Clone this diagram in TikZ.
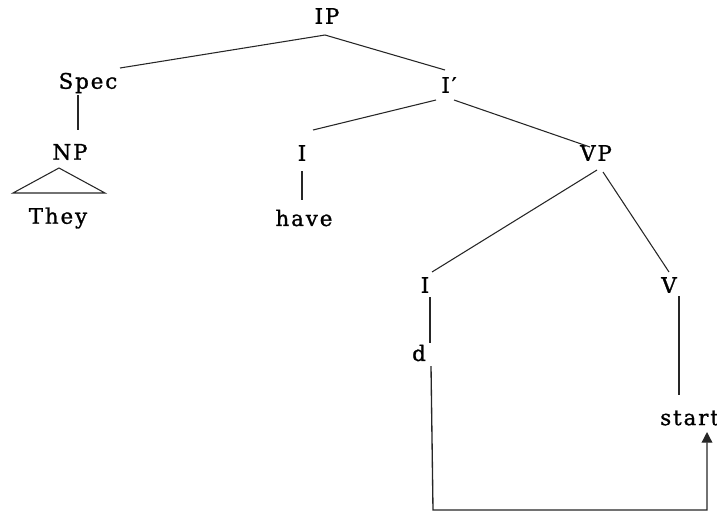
\documentclass[tikz,border=0pt]{standalone}
\usepackage{fontspec}
\setmainfont{DejaVu Serif}[LetterSpace=9,FakeBold=1.2]
\usetikzlibrary{calc,arrows.meta}
\begin{document}
\begin{tikzpicture}[x=0.75pt,y=-0.75pt,
  lab/.style={font=\fontsize{16}{18}\selectfont, inner sep=0pt},
  edge/.style={draw=black!85, line width=0.8pt}]
\useasboundingbox (0,0) rectangle (717,515);
\node[lab] (IP) at (327,16) {IP};
\node[lab] (Spec) at (88,83) {Spec};
\node[lab] (Ib) at (449,85) {I′};
\node[lab] (NP) at (70,152) {NP};
\node[lab] (I1) at (302,153) {I};
\node[lab] (VP) at (596,153) {VP};
\node[lab] (They) at (58,218) {They};
\node[lab] (have) at (304,218) {have};
\node[lab] (I2) at (425,285) {I};
\node[lab] (V) at (669,285) {V};
\node[lab] (d) at (419,353) {d};
\node[lab,anchor=west] (start) at (660,418) {start};
% tree edges
\draw[edge] ($(IP)+(-2,19)$) -- ($(Spec)+(32,-15)$);
\draw[edge] ($(IP)+(-2,19)$) -- ($(Ib)+(-4,-15)$);
\draw[edge,line width=1pt] ($(Spec)+(-10,12)$) -- ($(NP)+(8,-22)$);
\draw[edge] ($(Ib)+(-13,15)$) -- ($(I1)+(11,-23)$);
\draw[edge] ($(Ib)+(5,15)$) -- ($(VP)+(-6,-6)$);
\draw[edge,line width=1pt] ($(I1)+(0,18)$) -- ($(have)+(-2,-18)$);
\draw[edge] ($(VP)+(1,17)$) -- ($(I2)+(7,-13)$);
\draw[edge] ($(VP)+(7,19)$) -- ($(V)+(0,-13)$);
\draw[edge,line width=1pt] ($(I2)+(5,12)$) -- ($(d)+(11,-10)$);
\draw[edge,line width=1pt] ($(V)+(10,11)$) -- ($(start.west)+(19,-23)$);
% triangle under NP
\draw[edge] ($(NP)+(-11,16)$) -- ($(They)+(-45,-25)$) -- ($(They)+(47,-25)$) -- cycle;
% movement arrow
\coordinate (corner) at ($(d)+(14,157)$);
\draw[edge,line width=1pt,-{Triangle[length=8pt,width=8pt]}] ($(d)+(12,13)$) -- (corner) -- (corner -| {$(start.west)+(47,0)$}) -- ($(start.west)+(47,14)$);
\end{tikzpicture}
\end{document}
